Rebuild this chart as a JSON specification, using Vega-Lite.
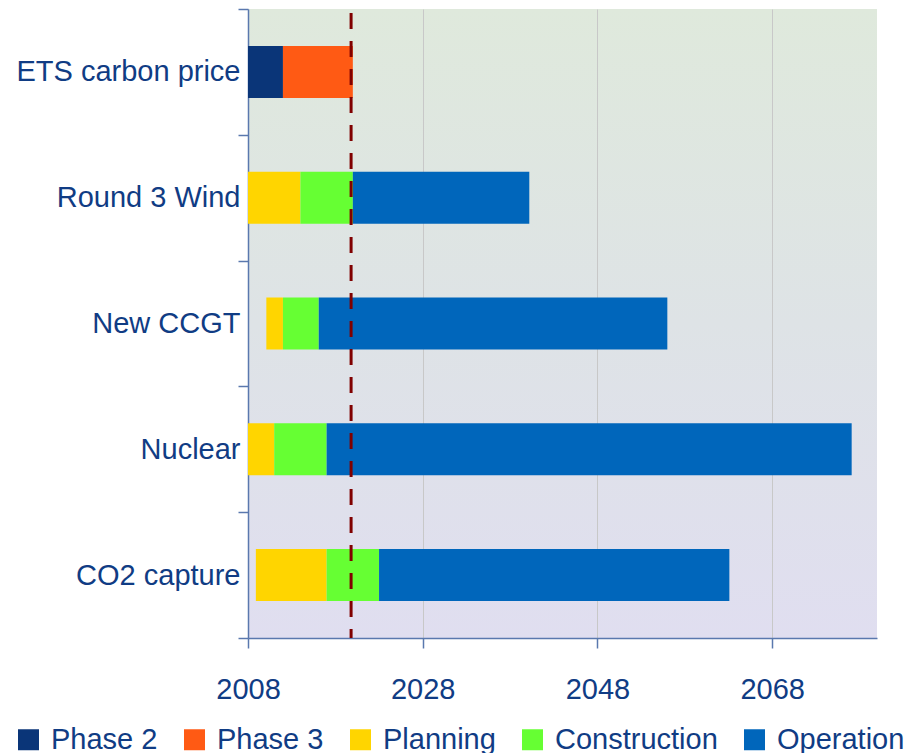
{
  "$schema": "https://vega.github.io/schema/vega-lite/v6.json",
  "autosize": "none",
  "width": 629,
  "height": 629,
  "padding": {"left": 248, "top": 9, "right": 34, "bottom": 115},
  "config": {
    "font": "Liberation Sans",
    "view": {
      "stroke": null,
      "fill": {"gradient": "linear", "x1": 0, "y1": 0, "x2": 0, "y2": 1,
        "stops": [{"offset": 0, "color": "#dfe9dc"}, {"offset": 0.5, "color": "#dee3e6"}, {"offset": 1, "color": "#e0def0"}]}
    }
  },
  "datasets": {
    "bars": [
      {"task": "ETS carbon price", "phase": "Phase 2", "start": 2008, "end": 2012},
      {"task": "ETS carbon price", "phase": "Phase 3", "start": 2012, "end": 2020},
      {"task": "Round 3 Wind", "phase": "Planning", "start": 2008, "end": 2014},
      {"task": "Round 3 Wind", "phase": "Construction", "start": 2014, "end": 2020},
      {"task": "Round 3 Wind", "phase": "Operation", "start": 2020, "end": 2040.2},
      {"task": "New CCGT", "phase": "Planning", "start": 2010.1, "end": 2012},
      {"task": "New CCGT", "phase": "Construction", "start": 2012, "end": 2016.1},
      {"task": "New CCGT", "phase": "Operation", "start": 2016.1, "end": 2056},
      {"task": "Nuclear", "phase": "Planning", "start": 2008, "end": 2011},
      {"task": "Nuclear", "phase": "Construction", "start": 2011, "end": 2017},
      {"task": "Nuclear", "phase": "Operation", "start": 2017, "end": 2077.1},
      {"task": "CO2 capture", "phase": "Planning", "start": 2008.9, "end": 2017},
      {"task": "CO2 capture", "phase": "Construction", "start": 2017, "end": 2023},
      {"task": "CO2 capture", "phase": "Operation", "start": 2023, "end": 2063.1}
    ],
    "marker": [{"year": 2019.8}]
  },
  "layer": [
    {
      "data": {"name": "bars"},
      "mark": {"type": "bar", "height": {"band": 0.413}},
      "encoding": {
        "y": {
          "field": "task", "type": "nominal",
          "sort": ["ETS carbon price", "Round 3 Wind", "New CCGT", "Nuclear", "CO2 capture"],
          "scale": {"paddingInner": 0, "paddingOuter": 0},
          "axis": {
            "title": null, "tickBand": "extent", "tickSize": 10, "tickColor": "#5a78ae", "tickWidth": 1.5,
            "domainColor": "#5a78ae", "domainWidth": 1.5, "labelFontSize": 29, "labelColor": "#103c84",
            "labelPadding": -2, "labelLimit": 400, "grid": false
          }
        },
        "x": {
          "field": "start", "type": "quantitative",
          "scale": {"domain": [2008, 2080], "nice": false, "zero": false},
          "axis": {
            "title": null, "values": [2008, 2028, 2048, 2068], "format": "d", "grid": true,
            "gridColor": "#c8c8c8", "gridWidth": 1, "tickSize": 10, "tickColor": "#5a78ae", "tickWidth": 1.5,
            "domainColor": "#5a78ae", "domainWidth": 1.5, "labelFontSize": 29, "labelColor": "#103c84",
            "labelPadding": 27, "labelFlush": false
          }
        },
        "x2": {"field": "end"},
        "color": {
          "field": "phase", "type": "nominal",
          "scale": {
            "domain": ["Phase 2", "Phase 3", "Planning", "Construction", "Operation"],
            "range": ["#0a3578", "#ff5a14", "#ffd500", "#66ff33", "#0066bb"]
          },
          "legend": {
            "title": null, "orient": "none", "direction": "horizontal", "columns": 5,
            "legendX": -234, "legendY": 716, "symbolType": "square", "symbolSize": 441,
            "symbolStrokeWidth": 0, "symbolOpacity": 1, "labelFontSize": 29, "labelColor": "#103c84",
            "labelOffset": 8, "columnPadding": 22, "labelLimit": 300
          }
        }
      }
    },
    {
      "data": {"name": "marker"},
      "mark": {"type": "rule", "color": "#800000", "strokeWidth": 3, "strokeDash": [16, 12], "strokeDashOffset": 24},
      "encoding": {"x": {"field": "year", "type": "quantitative"}}
    }
  ]
}
